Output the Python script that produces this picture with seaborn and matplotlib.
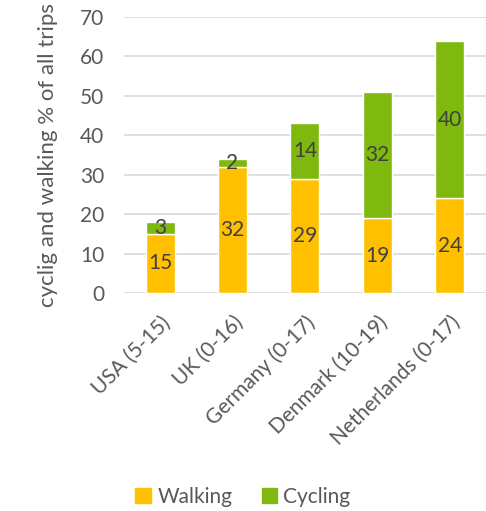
import matplotlib
matplotlib.use("Agg")
import matplotlib.pyplot as plt
import seaborn as sns
import pandas as pd
from matplotlib.patches import Patch

countries = ["USA (5-15)", "UK (0-16)", "Germany (0-17)", "Denmark (10-19)", "Netherlands (0-17)"]
walking = [15, 32, 29, 19, 24]
cycling = [3, 2, 14, 32, 40]

walk_color = "#FFC000"
cycle_color = "#7FB80E"
text_color = "#595959"
label_color = "#404040"

sns.set_theme(style="white")
plt.rcParams["font.family"] = ["Lato", "DejaVu Sans"]

df = pd.DataFrame({"country": countries, "walking": walking, "cycling": cycling})

fig = plt.figure(figsize=(4.86, 5.11), dpi=100)
ax = fig.add_axes([0.255, 0.4266, 0.745, 0.5401])

sns.barplot(data=df, x="country", y="walking", color=walk_color, width=0.4,
            saturation=1, ax=ax, zorder=3)
sns.barplot(data=df, x="country", y="cycling", color=cycle_color, width=0.4,
            saturation=1, ax=ax, bottom=df["walking"], zorder=3)

for i, (w, c) in enumerate(zip(walking, cycling)):
    ax.text(i, w / 2, str(w), ha="center", va="center", fontsize=15, color=label_color, zorder=4)
    ax.text(i, w + c / 2, str(c), ha="center", va="center", fontsize=15, color=label_color, zorder=4)

ax.set_ylim(0, 70)
ax.set_yticks(range(0, 71, 10))
ax.yaxis.grid(True, color="#D9D9D9", linewidth=1.2, zorder=0)
ax.set_axisbelow(True)
for s in ax.spines.values():
    s.set_visible(False)
ax.tick_params(axis="y", length=0, labelsize=15, colors=text_color, pad=14)
ax.tick_params(axis="x", length=0, labelsize=15, colors=text_color, pad=14)
ax.set_xticks(range(len(countries)))
ax.set_xticklabels(countries, rotation=45, ha="right", rotation_mode="anchor")
ax.set_xlabel("")
ax.set_ylabel("cyclig and walking % of all trips", fontsize=16, color=text_color, labelpad=16)

handles = [Patch(color=walk_color, label="Walking"), Patch(color=cycle_color, label="Cycling")]
fig.legend(handles=handles, loc="center", bbox_to_anchor=(0.5, 0.028), ncol=2, frameon=False,
           fontsize=15, labelcolor=text_color, handlelength=0.75, handleheight=0.75,
           handletextpad=0.3, columnspacing=1.4)

fig.savefig("out.png", dpi=100)
